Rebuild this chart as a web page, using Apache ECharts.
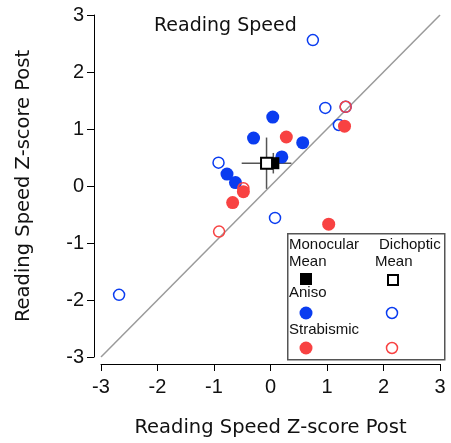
<!DOCTYPE html>
<html>
<head>
<meta charset="utf-8">
<script src="https://cdn.jsdelivr.net/npm/echarts@6/dist/echarts.min.js"></script>
<style>
  html, body { margin: 0; padding: 0; background: #fff; }
  #chart { width: 451px; height: 443px; }
</style>
</head>
<body>
<div id="chart"></div>
<script>
// values
const identity = [[-3, -3], [3, 3]];
const anisoMono = [[0.04, 1.21], [-0.30, 0.84], [0.57, 0.76], [0.20, 0.51], [-0.77, 0.21], [-0.62, 0.06]];
const anisoDich = [[0.75, 2.56], [0.97, 1.37], [1.21, 1.07], [-0.92, 0.41], [0.08, -0.56], [-2.68, -1.91], [1.33, 1.39]];
const strabMono = [[0.28, 0.86], [1.31, 1.05], [-0.48, -0.10], [-0.67, -0.29], [1.03, -0.67]];
const strabDich = [[1.33, 1.39], [-0.48, -0.04], [-0.91, -0.80]];
// [x, y, xErr, yErr]
const dichMean = [[-0.07, 0.40, 0.44, 0.45]];
const monoMean = [[0.05, 0.40, 0.22, 0.18]];

const blue = "#0a3cf0";
const red = "#f84242";
const font = "Liberation Sans";
const wideFont = "DejaVu Sans";

const chart = echarts.init(document.getElementById("chart"));

const errRender = (params, api) => {
  const x = api.value(0), y = api.value(1), ex = api.value(2), ey = api.value(3);
  const l = api.coord([x - ex, y]), r = api.coord([x + ex, y]);
  const t = api.coord([x, y + ey]), b = api.coord([x, y - ey]);
  const style = { stroke: "#555", lineWidth: 1.5 };
  return {
    type: "group",
    children: [
      { type: "line", shape: { x1: l[0], y1: l[1], x2: r[0], y2: r[1] }, style: style },
      { type: "line", shape: { x1: t[0], y1: t[1], x2: b[0], y2: b[1] }, style: style },
    ],
  };
};

const openCircle = (color) => ({
  color: "transparent",
  borderColor: color,
  borderWidth: 1.5,
  opacity: 1,
});

const axisCommon = {
  type: "value",
  min: -3,
  max: 3,
  interval: 1,
  offset: 7,
  nameLocation: "middle",
  nameTextStyle: { fontFamily: wideFont, fontSize: 19.5, color: "#111" },
  axisLine: { show: true, onZero: false, lineStyle: { color: "#000", width: 1 } },
  axisTick: { show: true, inside: false, length: 7, lineStyle: { color: "#000" } },
  splitLine: { show: false },
  axisLabel: { fontFamily: font, fontSize: 20, color: "#111" },
};

const lx = 287, ly = 233;
const legendText = (x, y, s) => ({
  type: "text", left: x, top: y, z: 101,
  style: { text: s, fontFamily: font, fontSize: 15, fill: "#111" },
});

chart.setOption({
  animation: false,
  backgroundColor: "#fff",
  title: {
    text: "Reading Speed",
    left: 149,
    top: 12,
    textStyle: { fontFamily: wideFont, fontSize: 19, fontWeight: "normal", color: "#111" },
  },
  grid: { left: 101, right: 11, top: 15, bottom: 86 },
  xAxis: Object.assign({}, axisCommon, {
    name: "Reading Speed Z-score Post",
    nameGap: 54,
    axisLabel: Object.assign({}, axisCommon.axisLabel, { margin: 13 }),
  }),
  yAxis: Object.assign({}, axisCommon, {
    name: "Reading Speed Z-score Post",
    nameGap: 60,
    axisLabel: Object.assign({}, axisCommon.axisLabel, { margin: 10 }),
  }),
  graphic: [
    {
      type: "rect", left: lx, top: ly,
      shape: { width: 157, height: 126 },
      style: { fill: "#fff", stroke: "#555", lineWidth: 1.5 },
      z: 100,
    },
    legendText(lx + 2, ly + 4, "Monocular"),
    legendText(lx + 2, ly + 21, "Mean"),
    legendText(lx + 92, ly + 4, "Dichoptic"),
    legendText(lx + 88, ly + 21, "Mean"),
    legendText(lx + 2, ly + 52, "Aniso"),
    legendText(lx + 2, ly + 89, "Strabismic"),
    { type: "rect", left: lx + 13, top: ly + 40, shape: { width: 12, height: 12 }, style: { fill: "#000" }, z: 101 },
    { type: "rect", left: lx + 100, top: ly + 41, shape: { width: 10, height: 10 }, style: { fill: "#fff", stroke: "#000", lineWidth: 2 }, z: 101 },
    { type: "circle", shape: { cx: lx + 19, cy: ly + 80, r: 6.5 }, style: { fill: blue }, z: 101 },
    { type: "circle", shape: { cx: lx + 105, cy: ly + 80, r: 5.5 }, style: { fill: "none", stroke: blue, lineWidth: 1.5 }, z: 101 },
    { type: "circle", shape: { cx: lx + 19, cy: ly + 115, r: 6.5 }, style: { fill: red }, z: 101 },
    { type: "circle", shape: { cx: lx + 105, cy: ly + 115, r: 5.5 }, style: { fill: "none", stroke: red, lineWidth: 1.5 }, z: 101 },
  ],
  series: [
    {
      type: "line",
      data: identity,
      symbol: "none",
      lineStyle: { color: "#9a9a9a", width: 1.5 },
      z: 1,
    },
    {
      type: "custom",
      data: dichMean.concat(monoMean),
      renderItem: errRender,
      z: 2,
    },
    {
      type: "scatter",
      data: anisoMono,
      symbolSize: 13,
      itemStyle: { color: blue, opacity: 1 },
      z: 3,
    },
    {
      type: "scatter",
      data: anisoDich,
      symbolSize: 11,
      itemStyle: openCircle(blue),
      z: 3,
    },
    {
      type: "scatter",
      data: strabDich,
      symbolSize: 11,
      itemStyle: openCircle(red),
      z: 4,
    },
    {
      type: "scatter",
      data: strabMono,
      symbolSize: 13,
      itemStyle: { color: red, opacity: 1 },
      z: 4,
    },
    {
      type: "scatter",
      data: monoMean.map((d) => [d[0], d[1]]),
      symbol: "rect",
      symbolSize: 12,
      itemStyle: { color: "#000", opacity: 1 },
      z: 5,
    },
    {
      type: "scatter",
      data: dichMean.map((d) => [d[0], d[1]]),
      symbol: "rect",
      symbolSize: 11,
      itemStyle: { color: "#fff", borderColor: "#000", borderWidth: 2, opacity: 1 },
      z: 5,
    },
  ],
});
</script>
</body>
</html>
